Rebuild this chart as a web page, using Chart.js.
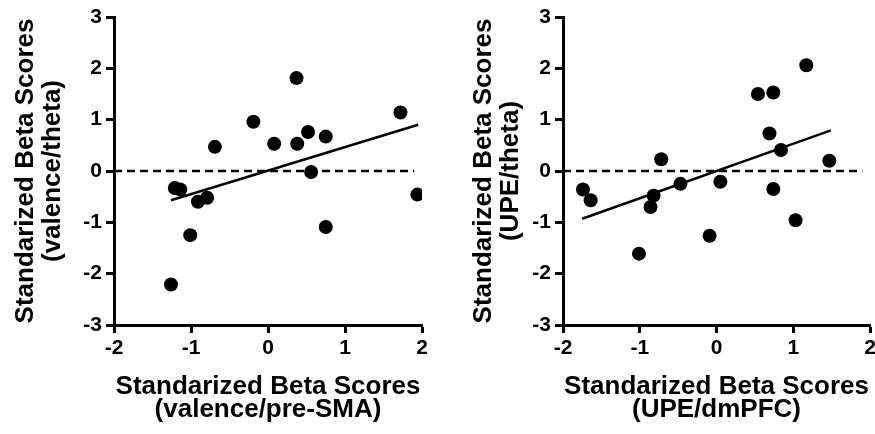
<!DOCTYPE html>
<html>
<head>
<meta charset="utf-8">
<script src="https://cdn.jsdelivr.net/npm/chart.js@4.4.1/dist/chart.umd.min.js"></script>
<style>
  html, body { margin: 0; padding: 0; background: #fff; overflow: hidden; }
  #wrap { position: relative; width: 875px; height: 434px; overflow: hidden; }
  canvas { position: absolute; top: 0; }
  #left { left: 0; }
  #right { left: 437px; }
</style>
</head>
<body>
<div id="wrap">
  <canvas id="left" width="437" height="434"></canvas>
  <canvas id="right" width="450" height="434"></canvas>
</div>
<script>
// tick labels shared by both panels
const xTicks = [-2, -1, 0, 1, 2];
const yTicks = [-3, -2, -1, 0, 1, 2, 3];

// left panel: valence, pre-SMA vs theta
const valenceSMA = [-1.26, -1.21, -1.14, -1.01, -0.91, -0.79, -0.69, -0.19, 0.08, 0.37, 0.38, 0.52, 0.56, 0.75, 0.75, 1.72, 1.94];
const valenceTheta = [-2.21, -0.33, -0.36, -1.25, -0.60, -0.52, 0.47, 0.96, 0.53, 1.81, 0.53, 0.76, -0.02, 0.67, -1.09, 1.14, -0.46];
const valenceFitX = [-1.26, 1.95];
const valenceFitY = [-0.57, 0.90];

// right panel: UPE, dmPFC vs theta
const upeDmPFC = [-1.74, -1.64, -1.01, -0.86, -0.82, -0.72, -0.47, -0.09, 0.05, 0.54, 0.69, 0.74, 0.74, 0.84, 1.03, 1.17, 1.47];
const upeTheta = [-0.36, -0.57, -1.61, -0.70, -0.48, 0.23, -0.25, -1.26, -0.21, 1.50, 0.73, 1.53, -0.35, 0.41, -0.96, 2.06, 0.20];
const upeFitX = [-1.75, 1.49];
const upeFitY = [-0.93, 0.79];

// dashed reference line at y = 0
const zeroX = [-2, 1.9];
const zeroY = [0, 0];

Chart.defaults.font.family = '"Liberation Sans", Arial, sans-serif';
Chart.defaults.color = '#000';

const toPoints = (xs, ys) => xs.map((x, i) => ({ x: x, y: ys[i] }));

function makePanel(id, xs, ys, fitX, fitY, xTitle, yTitle, yWidth, yTitlePad, rightPad) {
  const axisLine = { display: true, color: '#000', width: 3 };
  const tickMarks = { display: true, drawOnChartArea: false, drawTicks: true, tickLength: 8, tickWidth: 3, tickColor: '#000', color: '#000' };

  return new Chart(document.getElementById(id), {
    type: 'scatter',
    data: {
      datasets: [
        {
          data: toPoints(xs, ys),
          backgroundColor: '#000',
          borderColor: '#000',
          borderWidth: 0,
          pointRadius: 7,
          order: 0
        },
        {
          type: 'line',
          data: toPoints(fitX, fitY),
          borderColor: '#000',
          borderWidth: 2.5,
          pointRadius: 0,
          fill: false,
          order: 1
        },
        {
          type: 'line',
          data: toPoints(zeroX, zeroY),
          borderColor: '#000',
          borderWidth: 2.5,
          borderDash: [8, 5],
          pointRadius: 0,
          fill: false,
          order: 2
        }
      ]
    },
    options: {
      responsive: false,
      animation: false,
      layout: { padding: { top: 17, right: rightPad, bottom: 0, left: 0 } },
      plugins: { legend: { display: false }, tooltip: { enabled: false } },
      scales: {
        x: {
          type: 'linear',
          min: -2,
          max: 2,
          afterBuildTicks: (scale) => { scale.ticks = xTicks.map(v => ({ value: v })); },
          afterFit: (scale) => { scale.height = 109; },
          ticks: { font: { size: 21, weight: 'bold' }, padding: 3, color: '#000' },
          grid: tickMarks,
          border: axisLine,
          title: {
            display: true,
            text: xTitle,
            font: { size: 26, weight: 'bold', lineHeight: '23px' },
            padding: { top: 0, bottom: 12.5 },
            color: '#000'
          }
        },
        y: {
          type: 'linear',
          min: -3,
          max: 3,
          afterBuildTicks: (scale) => { scale.ticks = yTicks.map(v => ({ value: v })); },
          afterFit: (scale) => { scale.width = yWidth; },
          ticks: { font: { size: 21, weight: 'bold' }, padding: 4, color: '#000' },
          grid: tickMarks,
          border: axisLine,
          title: {
            display: true,
            text: yTitle,
            font: { size: 26, weight: 'bold', lineHeight: '27px' },
            padding: { top: yTitlePad, bottom: 0 },
            color: '#000'
          }
        }
      }
    }
  });
}

makePanel('left', valenceSMA, valenceTheta, valenceFitX, valenceFitY,
  ['Standarized Beta Scores', '(valence/pre-SMA)'],
  ['Standarized Beta Scores', '(valence/theta)'],
  114, 12.5, 15);

makePanel('right', upeDmPFC, upeTheta, upeFitX, upeFitY,
  ['Standarized Beta Scores', '(UPE/dmPFC)'],
  ['Standarized Beta Scores', '(UPE/theta)'],
  126, 33.5, 17);
</script>
</body>
</html>
